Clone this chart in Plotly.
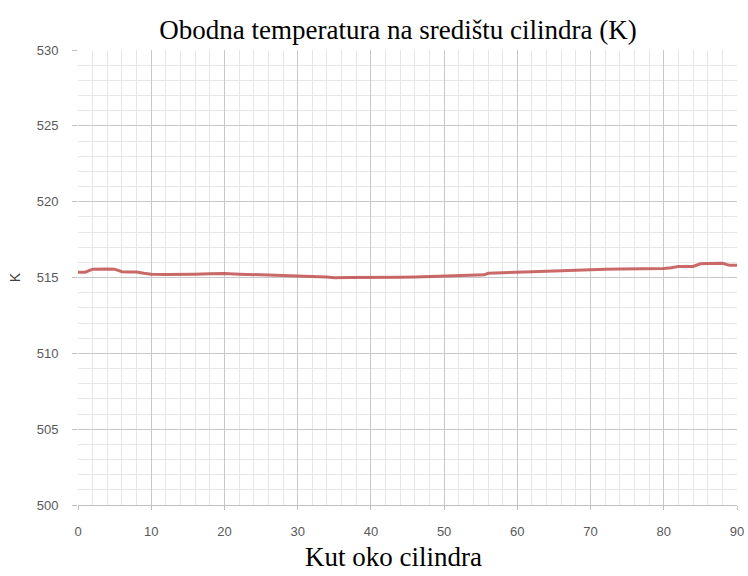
import plotly.graph_objects as go

angle = [0, 1, 2, 3, 4, 5, 6, 7, 8, 9, 10, 12, 14, 16, 18, 20, 22, 24, 26, 28, 30,
         32, 34, 35, 37, 40, 42, 44, 46, 48, 50, 52, 54, 55.5, 56, 58, 60, 62, 64,
         66, 68, 70, 72, 74, 76, 78, 80, 81, 82, 84, 85, 86, 88, 89, 90]
temp_K = [515.35, 515.35, 515.55, 515.57, 515.56, 515.55, 515.38, 515.37, 515.36,
          515.28, 515.22, 515.20, 515.19, 515.22, 515.24, 515.27, 515.22, 515.20,
          515.17, 515.14, 515.10, 515.07, 515.04, 514.99, 515.00, 514.99, 515.00,
          515.01, 515.03, 515.06, 515.08, 515.11, 515.15, 515.18, 515.28, 515.30,
          515.32, 515.38, 515.42, 515.46, 515.50, 515.54, 515.55, 515.56, 515.56,
          515.57, 515.60, 515.65, 515.72, 515.73, 515.90, 515.93, 515.94, 515.80,
          515.80]

x_ticks = [0, 10, 20, 30, 40, 50, 60, 70, 80, 90]
y_ticks = [500, 505, 510, 515, 520, 525, 530]

fig = go.Figure()
fig.add_trace(go.Scatter(
    x=angle, y=temp_K, mode="lines",
    line=dict(color="rgba(192,80,77,0.85)", width=3),
    showlegend=False,
))

tick_font = dict(family="Liberation Sans, Arial", size=13, color="#595959")
serif = "Liberation Serif, Times New Roman, serif"

fig.update_layout(
    width=748, height=576,
    paper_bgcolor="white", plot_bgcolor="white",
    margin=dict(l=78, r=11, t=50, b=71),
    title=dict(
        text="Obodna temperatura na središtu cilindra (K)",
        font=dict(family=serif, size=27, color="#000000"),
        x=398 / 748, xanchor="center", y=1 - 30 / 576, yanchor="middle",
    ),
    xaxis=dict(
        range=[0, 90], tickvals=x_ticks, ticktext=[str(v) for v in x_ticks],
        showgrid=True, gridcolor="#c8c8c8", gridwidth=1,
        minor=dict(dtick=2, showgrid=True, gridcolor="#e6e6e6", gridwidth=1),
        showline=True, linecolor="#bfbfbf", linewidth=1,
        zeroline=False, ticks="outside", ticklen=4, tickcolor="#bfbfbf",
        ticklabelstandoff=10, tickfont=tick_font, automargin=False,
    ),
    yaxis=dict(
        range=[500, 530], tickvals=y_ticks, ticktext=[str(v) for v in y_ticks],
        showgrid=True, gridcolor="#c8c8c8", gridwidth=1,
        minor=dict(dtick=1, showgrid=True, gridcolor="#e6e6e6", gridwidth=1),
        showline=False, zeroline=False,
        ticks="outside", ticklen=5, tickcolor="#bfbfbf",
        ticklabelstandoff=11, tickfont=tick_font, automargin=False,
        title=dict(text="K", font=dict(family="Liberation Sans, Arial", size=14, color="#404040"),
                   standoff=12),
    ),
    annotations=[dict(
        text="Kut oko cilindra", xref="paper", yref="paper",
        x=(393 - 78) / 659, y=-(557 - 505) / 455, xanchor="center", yanchor="middle",
        showarrow=False, font=dict(family=serif, size=27, color="#000000"),
    )],
)

fig.write_html("out.html", config={"displayModeBar": False},
               post_script="document.body.style.margin='0';")
